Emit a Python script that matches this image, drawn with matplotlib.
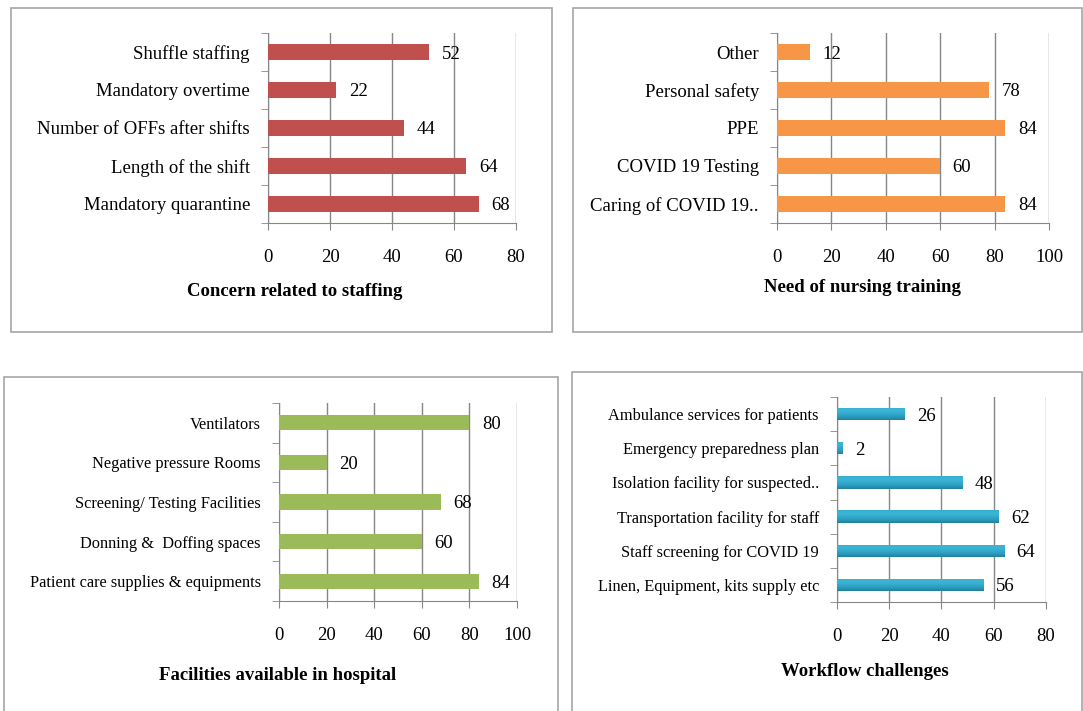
import matplotlib.pyplot as plt
import numpy as np
from matplotlib.patches import Rectangle
from matplotlib.colors import LinearSegmentedColormap

plt.rcParams['font.family'] = ['Liberation Serif', 'DejaVu Serif']

W, H = 1083, 711

# data, listed top to bottom as in the picture
staff_labels = ["Shuffle staffing", "Mandatory overtime", "Number of OFFs after shifts",
                "Length of the shift", "Mandatory quarantine"]
staff_values = [52, 22, 44, 64, 68]

train_labels = ["Other", "Personal safety", "PPE", "COVID 19 Testing", "Caring of COVID 19.."]
train_values = [12, 78, 84, 60, 84]

facility_labels = ["Ventilators", "Negative pressure Rooms", "Screening/ Testing Facilities",
                   "Donning &  Doffing spaces", "Patient care supplies & equipments"]
facility_values = [80, 20, 68, 60, 84]

workflow_labels = ["Ambulance services for patients", "Emergency preparedness plan",
                   "Isolation facility for suspected..", "Transportation facility for staff",
                   "Staff screening for COVID 19", "Linen, Equipment, kits supply etc"]
workflow_values = [26, 2, 48, 62, 64, 56]

GRID = '#868686'
fig = plt.figure(figsize=(W / 100, H / 100), dpi=100)

teal = LinearSegmentedColormap.from_list('teal', ['#217f9b', '#2b9bbd', '#33abcd', '#3db5d8', '#36aed0'])


def frame(l, t, r, b):
    fig.patches.append(Rectangle((l / W, 1 - b / H), (r - l) / W, (b - t) / H, fill=False,
                                 edgecolor='#a6a6a6', lw=1.2, transform=fig.transFigure))


def panel(box, labels, values, color, xmax, title, title_xy, fs_lab, bar_h, gradient=False):
    l, t, r, b = box
    ax = fig.add_axes([l / W, 1 - b / H, (r - l) / W, (b - t) / H])
    n = len(labels)
    y = np.arange(n)[::-1]
    bars = ax.barh(y, values, height=bar_h, color=color, zorder=3)
    if gradient:
        grad = np.linspace(0, 1, 64).reshape(-1, 1)
        for bar in bars:
            x0, y0 = bar.get_x(), bar.get_y()
            im = ax.imshow(grad, extent=[x0, x0 + bar.get_width(), y0, y0 + bar.get_height()],
                           origin='lower', aspect='auto', cmap=teal, zorder=3.5)
            im.set_clip_path(bar)
    for yy, v in zip(y, values):
        ax.annotate(str(v), (v, yy), xytext=(9, 0), textcoords='offset points',
                    ha='left', va='center_baseline', fontsize=13.5, zorder=5)
    ax.set_xlim(0, xmax)
    ax.set_ylim(-0.5, n - 0.5)
    ax.set_xticks(np.arange(0, xmax + 1, 20))
    ax.set_yticks(y)
    ax.set_yticklabels(labels, fontsize=fs_lab)
    ax.set_yticks(np.arange(n + 1) - 0.5, minor=True)
    ax.tick_params(axis='y', which='major', length=0, pad=13)
    ax.tick_params(axis='y', which='minor', length=5, color=GRID, direction='out')
    ax.tick_params(axis='x', length=5, color=GRID, direction='out', pad=14, labelsize=13.5)
    ax.xaxis.grid(True, color=GRID, lw=1, zorder=0)
    ax.set_axisbelow(True)
    for s in ['top', 'right']:
        ax.spines[s].set_visible(False)
    ax.spines['left'].set_color(GRID)
    ax.spines['bottom'].set_color(GRID)
    ax.set_facecolor('none')
    fig.text(title_xy[0] / W, 1 - title_xy[1] / H, title, ha='center', va='center',
             fontsize=13.5, fontweight='bold')
    return ax


frame(11, 8, 552, 332)
frame(573, 8, 1082, 332)
frame(4, 377, 558, 712)
frame(572, 372, 1082, 712)

panel((268, 33, 516, 223), staff_labels, staff_values, '#c0504d', 80,
      'Concern related to staffing', (295, 292), 13.5, 0.42)
panel((777, 33, 1049, 223), train_labels, train_values, '#f79646', 100,
      'Need of nursing training', (862, 287), 13.5, 0.4)
panel((279, 403, 517, 601), facility_labels, facility_values, '#9bbb59', 100,
      'Facilities available in hospital', (278, 675), 11.8, 0.38)
panel((837, 397, 1046, 602), workflow_labels, workflow_values, '#31a9cb', 80,
      'Workflow challenges', (865, 672), 11.8, 0.36, gradient=True)

fig.savefig('out.png', dpi=100)
